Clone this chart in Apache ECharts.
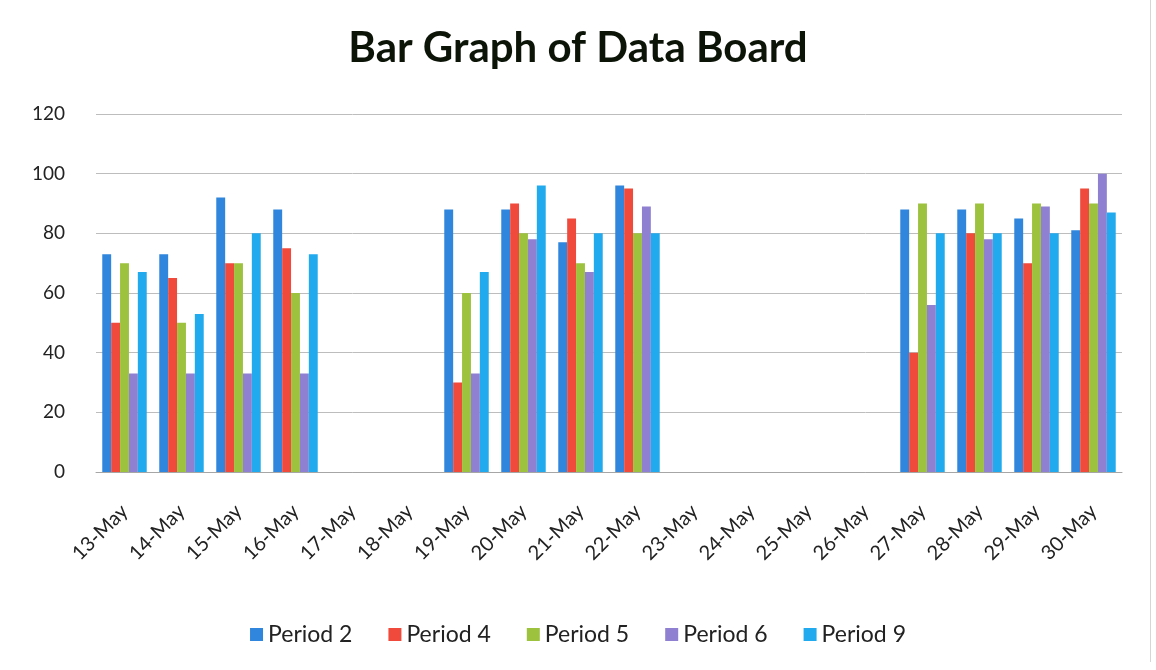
<!DOCTYPE html>
<html>
<head>
<meta charset="utf-8">
<script src="https://cdn.jsdelivr.net/npm/echarts@6/dist/echarts.min.js"></script>
<style>
html,body{margin:0;padding:0;background:#fff;}
#c{width:1156px;height:670px;}
</style>
</head>
<body>
<div id="c"></div>
<script>
const categories = ['13-May','14-May','15-May','16-May','17-May','18-May','19-May','20-May','21-May','22-May','23-May','24-May','25-May','26-May','27-May','28-May','29-May','30-May'];
const period2 = [73,73,92,88,null,null,88,88,77,96,null,null,null,null,88,88,85,81];
const period4 = [50,65,70,75,null,null,30,90,85,95,null,null,null,null,40,80,70,95];
const period5 = [70,50,70,60,null,null,60,80,70,80,null,null,null,null,90,90,90,90];
const period6 = [33,33,33,33,null,null,33,78,67,89,null,null,null,null,56,78,89,100];
const period9 = [67,53,80,73,null,null,67,96,80,80,null,null,null,null,80,80,80,87];
const seriesNames = ['Period 2','Period 4','Period 5','Period 6','Period 9'];
const yTicks = [0,20,40,60,80,100,120];

const colors = ['#2f86dc','#f04a3c','#9cc23e','#8f80d2','#22aaee'];
const data = [period2, period4, period5, period6, period9];
const font = 'Lato, "Open Sans", sans-serif';

const chart = echarts.init(document.getElementById('c'));
chart.setOption({
  animation: false,
  color: colors,
  title: {
    text: 'Bar Graph of Data Board',
    left: 'center',
    top: 22,
    textStyle: {fontFamily: font, fontWeight: 'bold', fontSize: 42, color: '#0c1408'}
  },
  legend: {
    top: 618,
    left: 'center',
    itemWidth: 13,
    itemHeight: 13,
    itemGap: 36,
    icon: 'rect',
    textStyle: {fontFamily: font, fontSize: 23, color: '#222'},
    data: seriesNames
  },
  graphic: [{
    type: 'line',
    shape: {x1: 1150.5, y1: 0, x2: 1150.5, y2: 662},
    style: {stroke: '#d6d6d6', lineWidth: 1}
  }],
  grid: {left: 96, right: 34, top: 114, bottom: 198, containLabel: false},
  xAxis: {
    type: 'category',
    data: categories,
    axisTick: {show: false},
    axisLine: {lineStyle: {color: '#a6a6a6'}},
    axisLabel: {rotate: 45, fontFamily: font, fontSize: 20, color: '#222', margin: 36}
  },
  yAxis: {
    type: 'value',
    min: yTicks[0],
    max: yTicks[yTicks.length - 1],
    interval: 20,
    axisLine: {show: false},
    axisTick: {show: false},
    axisLabel: {fontFamily: font, fontSize: 19, color: '#222', margin: 31},
    splitLine: {lineStyle: {color: '#bdbdbd'}}
  },
  series: seriesNames.map((n, i) => ({
    name: n,
    type: 'bar',
    data: data[i],
    barGap: '0%',
    barCategoryGap: '22%'
  }))
});
</script>
</body>
</html>
